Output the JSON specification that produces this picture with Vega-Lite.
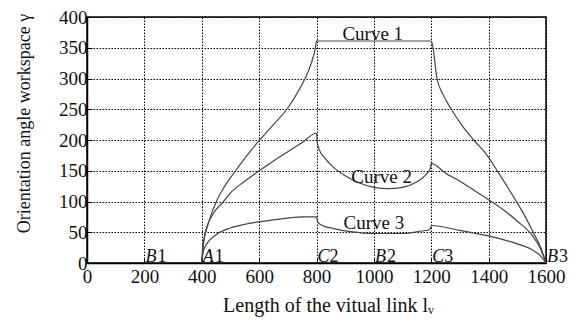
{
  "$schema": "https://vega.github.io/schema/vega-lite/v6.json",
  "width": 459,
  "height": 246,
  "autosize": "none",
  "padding": {"left": 87, "top": 17, "right": 29, "bottom": 62},
  "background": "white",
  "config": {
    "font": "Liberation Serif",
    "view": {"stroke": "#000", "strokeWidth": 1.5},
    "axis": {
      "labelFont": "Liberation Serif",
      "titleFont": "Liberation Serif",
      "labelFontSize": 19,
      "titleFontSize": 19,
      "labelColor": "#111",
      "titleColor": "#111",
      "titleFontWeight": "normal",
      "labelOverlap": false,
      "labelFlush": false,
      "domainColor": "#000",
      "domainWidth": 1.5,
      "tickColor": "#000",
      "tickSize": -5,
      "gridColor": "#000",
      "gridDash": [1.5, 1.5],
      "gridOpacity": 1,
      "gridWidth": 1
    }
  },
  "datasets": {
    "curves": [
      {"curve": "1", "x": 400, "y": 0},
      {"curve": "1", "x": 403, "y": 25},
      {"curve": "1", "x": 408, "y": 40},
      {"curve": "1", "x": 415, "y": 52},
      {"curve": "1", "x": 430, "y": 75},
      {"curve": "1", "x": 451, "y": 100},
      {"curve": "1", "x": 480, "y": 125},
      {"curve": "1", "x": 518, "y": 150},
      {"curve": "1", "x": 558, "y": 175},
      {"curve": "1", "x": 600, "y": 199},
      {"curve": "1", "x": 650, "y": 225},
      {"curve": "1", "x": 700, "y": 252},
      {"curve": "1", "x": 735, "y": 278},
      {"curve": "1", "x": 760, "y": 300},
      {"curve": "1", "x": 782, "y": 325},
      {"curve": "1", "x": 796, "y": 350},
      {"curve": "1", "x": 800, "y": 361},
      {"curve": "1", "x": 1200, "y": 361},
      {"curve": "1", "x": 1206, "y": 350},
      {"curve": "1", "x": 1220, "y": 300},
      {"curve": "1", "x": 1240, "y": 275},
      {"curve": "1", "x": 1270, "y": 250},
      {"curve": "1", "x": 1305, "y": 225},
      {"curve": "1", "x": 1348, "y": 200},
      {"curve": "1", "x": 1395, "y": 175},
      {"curve": "1", "x": 1430, "y": 150},
      {"curve": "1", "x": 1464, "y": 125},
      {"curve": "1", "x": 1497, "y": 100},
      {"curve": "1", "x": 1528, "y": 75},
      {"curve": "1", "x": 1555, "y": 50},
      {"curve": "1", "x": 1580, "y": 27},
      {"curve": "1", "x": 1600, "y": 0},
      {"curve": "2", "x": 400, "y": 0},
      {"curve": "2", "x": 404, "y": 22},
      {"curve": "2", "x": 412, "y": 48},
      {"curve": "2", "x": 440, "y": 80},
      {"curve": "2", "x": 476, "y": 100},
      {"curve": "2", "x": 500, "y": 114},
      {"curve": "2", "x": 550, "y": 133},
      {"curve": "2", "x": 600, "y": 150},
      {"curve": "2", "x": 650, "y": 166},
      {"curve": "2", "x": 700, "y": 181},
      {"curve": "2", "x": 750, "y": 196},
      {"curve": "2", "x": 800, "y": 211},
      {"curve": "2", "x": 803, "y": 195},
      {"curve": "2", "x": 810, "y": 184},
      {"curve": "2", "x": 830, "y": 170},
      {"curve": "2", "x": 860, "y": 155},
      {"curve": "2", "x": 900, "y": 142},
      {"curve": "2", "x": 950, "y": 130},
      {"curve": "2", "x": 1000, "y": 123},
      {"curve": "2", "x": 1050, "y": 121},
      {"curve": "2", "x": 1100, "y": 123},
      {"curve": "2", "x": 1150, "y": 132},
      {"curve": "2", "x": 1180, "y": 143},
      {"curve": "2", "x": 1196, "y": 153},
      {"curve": "2", "x": 1200, "y": 162},
      {"curve": "2", "x": 1250, "y": 146},
      {"curve": "2", "x": 1300, "y": 133},
      {"curve": "2", "x": 1350, "y": 118},
      {"curve": "2", "x": 1400, "y": 103},
      {"curve": "2", "x": 1450, "y": 87},
      {"curve": "2", "x": 1500, "y": 68},
      {"curve": "2", "x": 1550, "y": 46},
      {"curve": "2", "x": 1580, "y": 24},
      {"curve": "2", "x": 1600, "y": 0},
      {"curve": "3", "x": 400, "y": 0},
      {"curve": "3", "x": 405, "y": 18},
      {"curve": "3", "x": 410, "y": 25},
      {"curve": "3", "x": 420, "y": 33},
      {"curve": "3", "x": 450, "y": 46},
      {"curve": "3", "x": 500, "y": 57},
      {"curve": "3", "x": 550, "y": 63},
      {"curve": "3", "x": 600, "y": 67},
      {"curve": "3", "x": 700, "y": 73},
      {"curve": "3", "x": 750, "y": 75},
      {"curve": "3", "x": 800, "y": 75},
      {"curve": "3", "x": 805, "y": 66},
      {"curve": "3", "x": 820, "y": 61},
      {"curve": "3", "x": 860, "y": 56},
      {"curve": "3", "x": 920, "y": 51},
      {"curve": "3", "x": 1000, "y": 48},
      {"curve": "3", "x": 1096, "y": 48},
      {"curve": "3", "x": 1167, "y": 52},
      {"curve": "3", "x": 1195, "y": 54},
      {"curve": "3", "x": 1200, "y": 61},
      {"curve": "3", "x": 1300, "y": 53},
      {"curve": "3", "x": 1400, "y": 44},
      {"curve": "3", "x": 1500, "y": 31},
      {"curve": "3", "x": 1550, "y": 22},
      {"curve": "3", "x": 1580, "y": 12},
      {"curve": "3", "x": 1600, "y": 0}
    ],
    "curveLabels": [
      {"label": "Curve 1", "x": 996, "y": 363},
      {"label": "Curve 2", "x": 1027, "y": 130},
      {"label": "Curve 3", "x": 1000, "y": 55}
    ],
    "points": [
      {"letter": "B", "num": "1", "x": 200, "y": 0},
      {"letter": "A", "num": "1", "x": 400, "y": 0},
      {"letter": "C", "num": "2", "x": 800, "y": 0},
      {"letter": "B", "num": "2", "x": 1000, "y": 0},
      {"letter": "C", "num": "3", "x": 1200, "y": 0},
      {"letter": "B", "num": "3", "x": 1600, "y": 0}
    ]
  },
  "encoding": {
    "x": {
      "field": "x", "type": "quantitative",
      "scale": {"domain": [0, 1600], "nice": false},
      "axis": {
        "values": [0, 200, 400, 600, 800, 1000, 1200, 1400, 1600],
        "format": "d",
        "labelPadding": 9,
        "labelLetterSpacing": 0.9,
        "title": "Length of the vitual link lᵥ",
        "titleFontSize": 20,
        "titleLetterSpacing": 1.2,
        "titleX": 241,
        "titleAlign": "center",
        "titlePadding": 9
      }
    },
    "y": {
      "field": "y", "type": "quantitative",
      "scale": {"domain": [0, 400], "nice": false},
      "axis": {
        "values": [0, 50, 100, 150, 200, 250, 300, 350, 400],
        "format": "d",
        "labelPadding": 5,
        "labelLetterSpacing": 0.9,
        "title": "Orientation angle workspace γ",
        "titleFontSize": 18,
        "titleAngle": -90,
        "titleAlign": "center",
        "titleBaseline": "alphabetic",
        "titleX": -58,
        "titleY": 106
      }
    }
  },
  "layer": [
    {
      "data": {"name": "curves"},
      "mark": {"type": "line", "color": "#444", "strokeWidth": 1.2, "clip": false, "interpolate": "monotone"},
      "encoding": {
        "detail": {"field": "curve"}
      }
    },
    {
      "data": {"name": "curveLabels"},
      "mark": {"type": "text", "font": "Liberation Serif", "fontSize": 19, "letterSpacing": 0.9, "color": "#111", "baseline": "alphabetic", "align": "center"},
      "encoding": {
        "text": {"field": "label"}
      }
    },
    {
      "data": {"name": "points"},
      "mark": {"type": "text", "font": "Liberation Serif", "fontSize": 18, "fontStyle": "italic", "color": "#111", "baseline": "alphabetic", "align": "left", "dx": 1, "dy": -1},
      "encoding": {
        "text": {"field": "letter"}
      }
    },
    {
      "data": {"name": "points"},
      "mark": {"type": "text", "font": "Liberation Serif", "fontSize": 18, "color": "#111", "baseline": "alphabetic", "align": "left", "dx": 13, "dy": -1},
      "encoding": {
        "text": {"field": "num"}
      }
    }
  ]
}
